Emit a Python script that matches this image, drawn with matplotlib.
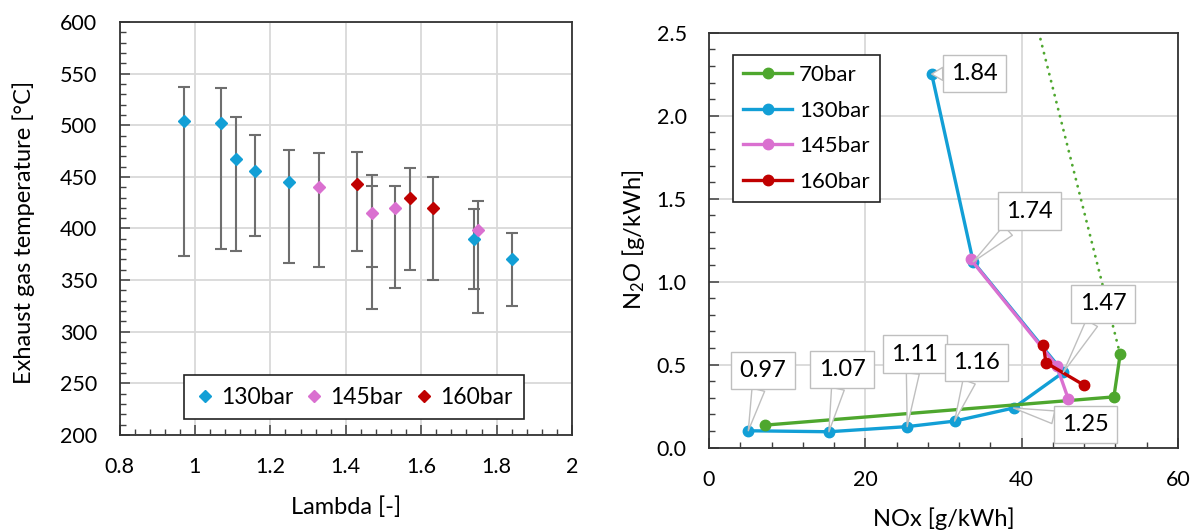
import matplotlib
matplotlib.use('Agg')
import matplotlib.pyplot as plt
from matplotlib.ticker import MultipleLocator, FixedLocator, FormatStrFormatter

plt.rcParams['font.family'] = ['Lato', 'DejaVu Sans']
plt.rcParams['mathtext.fontset'] = 'custom'
plt.rcParams['mathtext.rm'] = 'Lato'
plt.rcParams['mathtext.it'] = 'Lato:italic'

# ---------------- left panel data ----------------
lam_130 = [0.97, 1.07, 1.11, 1.16, 1.25, 1.74, 1.84]
temp_130 = [504, 502, 467, 456, 445, 390, 370]
hi_130 = [537, 536, 508, 491, 476, 419, 396]
lo_130 = [373, 380, 378, 393, 367, 341, 325]

lam_145 = [1.33, 1.47, 1.53, 1.75]
temp_145 = [440, 415, 420, 399]
hi_145 = [473, 452, 441, 427]
lo_145 = [363, 322, 342, 318]

lam_160 = [1.43, 1.57, 1.63]
temp_160 = [443, 430, 420]
hi_160 = [474, 459, 450]
lo_160 = [378, 360, 350]

lam_extra = [1.47]
temp_extra = [415]
hi_extra = [441]
lo_extra = [363]

x_ticks_left = [0.8, 1.0, 1.2, 1.4, 1.6, 1.8, 2.0]
x_ticklabels_left = ['0.8', '1', '1.2', '1.4', '1.6', '1.8', '2']

# ---------------- right panel data ----------------
nox_70 = [7.2, 51.8, 52.6]
n2o_70 = [0.136, 0.306, 0.562]
trend_nox_70 = [52.6, 42.2]
trend_n2o_70 = [0.562, 2.5]

nox_130 = [5.03, 15.34, 25.36, 31.42, 38.96, 45.33, 33.8, 28.49]
n2o_130 = [0.102, 0.096, 0.127, 0.160, 0.239, 0.454, 1.12, 2.251]
lambda_labels_130 = ['0.97', '1.07', '1.11', '1.16', '1.25', '1.47', '1.74', '1.84']

nox_145 = [45.97, 44.48, 33.48]
n2o_145 = [0.293, 0.494, 1.135]

nox_160 = [42.77, 43.11, 48.01]
n2o_160 = [0.619, 0.512, 0.376]

# callout offsets (points) relative to each 130bar point
callout_offsets = [(10.6, 43.4), (9.4, 44.8), (5.5, 52.1), (15.6, 42.2),
                   (51.8, -12.0), (28.6, 49.2), (40.5, 36.4), (31.0, 0.4)]

C_BLUE = '#129fd6'
C_PINK = '#da70d0'
C_RED = '#c00000'
C_GREEN = '#4ea72e'
C_ERR = '#6e6e6e'
C_GRID = '#d9d9d9'
C_SPINE = '#333333'

TICK_FS = 15.5
LABEL_FS = 17

fig = plt.figure(figsize=(11.98, 5.31), dpi=100)
axL = fig.add_axes([0.0998, 0.1808, 0.3777, 0.7778])
axR = fig.add_axes([0.5918, 0.1569, 0.3915, 0.7815])


def style_axes(ax):
    for s in ax.spines.values():
        s.set_linewidth(1.3)
        s.set_color(C_SPINE)
    ax.grid(True, which='major', color=C_GRID, lw=1.3)
    ax.set_axisbelow(True)
    ax.tick_params(which='both', direction='in', top=False, right=False,
                   color='#404040', labelsize=TICK_FS)
    ax.tick_params(which='major', length=7, width=1.1)
    ax.tick_params(which='minor', length=4.5, width=1.0)
    ax.tick_params(axis='y', which='both', pad=16)
    ax.tick_params(axis='x', which='both', pad=16)


# ---------------- left panel ----------------
style_axes(axL)
ekw = dict(fmt='none', ecolor=C_ERR, elinewidth=1.5, capsize=4, capthick=1.5, zorder=2)
axL.errorbar(lam_extra, temp_extra,
             yerr=[[t - l for t, l in zip(temp_extra, lo_extra)],
                   [h - t for t, h in zip(temp_extra, hi_extra)]], **ekw)
for lam, t, hi, lo in [(lam_130, temp_130, hi_130, lo_130),
                       (lam_145, temp_145, hi_145, lo_145),
                       (lam_160, temp_160, hi_160, lo_160)]:
    axL.errorbar(lam, t,
                 yerr=[[a - b for a, b in zip(t, lo)], [b - a for a, b in zip(t, hi)]],
                 **ekw)
axL.plot(lam_130, temp_130, ls='none', marker='D', ms=6.5, color=C_BLUE, label='130bar', zorder=3)
axL.plot(lam_145, temp_145, ls='none', marker='D', ms=6.5, color=C_PINK, label='145bar', zorder=3)
axL.plot(lam_160, temp_160, ls='none', marker='D', ms=6.5, color=C_RED, label='160bar', zorder=3)

axL.set_xlim(0.8, 2.0)
axL.set_ylim(200, 600)
axL.xaxis.set_major_locator(FixedLocator(x_ticks_left))
axL.set_xticklabels(x_ticklabels_left)
axL.xaxis.set_minor_locator(MultipleLocator(0.04))
axL.yaxis.set_major_locator(MultipleLocator(50))
axL.yaxis.set_minor_locator(MultipleLocator(10))
axL.set_xlabel('Lambda [-]', fontsize=LABEL_FS)
axL.set_ylabel('Exhaust gas temperature [°C]', fontsize=LABEL_FS)
axL.xaxis.set_label_coords(0.5, -0.148)
axL.yaxis.set_label_coords(-0.186, 0.49)

legL = axL.legend(ncol=3, loc='center', bbox_to_anchor=(0.118, 0.037, 0.801, 0.109),
                  mode='expand', fontsize=16.5, frameon=True, fancybox=False,
                  framealpha=1, edgecolor='#222222', handlelength=0.8,
                  handletextpad=0.3, columnspacing=0.8, borderpad=0.5,
                  markerscale=1.0)
legL.get_frame().set_linewidth(1.2)

# ---------------- right panel ----------------
style_axes(axR)
axR.plot(trend_nox_70, trend_n2o_70, color=C_GREEN, lw=2.0,
         ls=(0, (0.1, 2.5)), dash_capstyle='round', zorder=2)
lkw = dict(lw=2.4, marker='o', ms=7.5)
axR.plot(nox_130, n2o_130, color=C_BLUE, label='130bar', zorder=3, **lkw)
axR.plot(nox_70, n2o_70, color=C_GREEN, label='70bar', zorder=3.5, **lkw)
axR.plot(nox_145, n2o_145, color=C_PINK, label='145bar', zorder=4, **lkw)
axR.plot(nox_160, n2o_160, color=C_RED, label='160bar', zorder=5, **lkw)

for x, y, lab, (dx, dy) in zip(nox_130, n2o_130, lambda_labels_130, callout_offsets):
    axR.annotate(lab, xy=(x, y), xytext=(dx, dy), textcoords='offset points',
                 ha='center', va='center', fontsize=17, zorder=6,
                 bbox=dict(boxstyle='square,pad=0.35', fc='white', ec='#bfbfbf', lw=1.0),
                 arrowprops=dict(arrowstyle='wedge,tail_width=0.55', fc='white',
                                 ec='#bfbfbf', lw=1.0, shrinkA=0, shrinkB=0))

axR.set_xlim(0, 60)
axR.set_ylim(0, 2.5)
axR.xaxis.set_major_locator(MultipleLocator(20))
axR.xaxis.set_minor_locator(MultipleLocator(4))
axR.yaxis.set_major_locator(MultipleLocator(0.5))
axR.yaxis.set_minor_locator(MultipleLocator(0.1))
axR.yaxis.set_major_formatter(FormatStrFormatter('%.1f'))
axR.set_xlabel('NOx [g/kWh]', fontsize=LABEL_FS)
axR.set_ylabel(r'N$_\mathrm{2}$O [g/kWh]', fontsize=LABEL_FS)
axR.xaxis.set_label_coords(0.5, -0.145)
axR.yaxis.set_label_coords(-0.132, 0.5)

h, l = axR.get_legend_handles_labels()
order = [l.index(k) for k in ['70bar', '130bar', '145bar', '160bar']]
legR = axR.legend([h[i] for i in order], [l[i] for i in order],
                  loc='upper left', bbox_to_anchor=(0.052, 0.946), fontsize=16,
                  frameon=True, fancybox=False, framealpha=1, edgecolor='#222222',
                  handlelength=2.2, handletextpad=0.3, labelspacing=0.7,
                  borderpad=0.45, borderaxespad=0)
legR.get_frame().set_linewidth(1.2)

fig.savefig('out.png', dpi=100)
